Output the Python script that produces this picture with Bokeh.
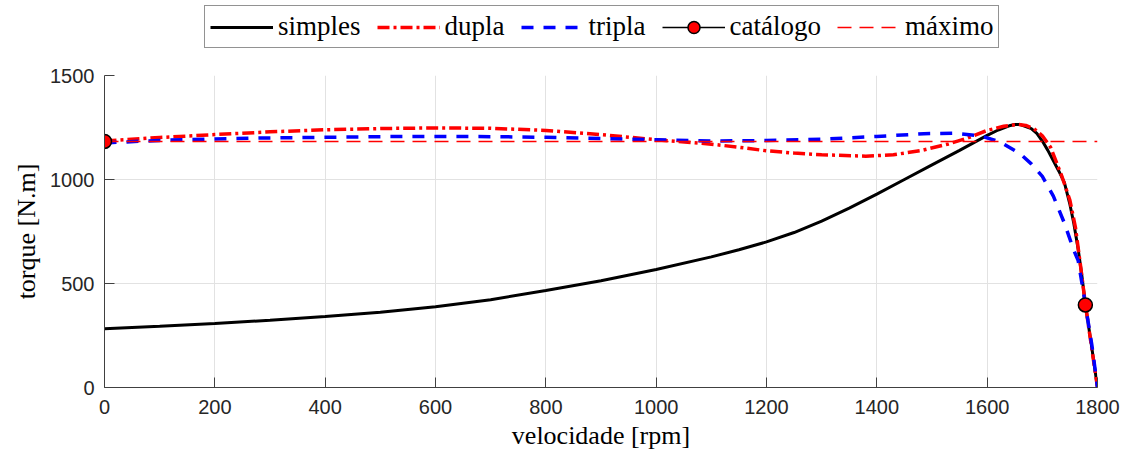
import numpy as np
from bokeh.plotting import figure
from bokeh.layouts import column
from bokeh.models import Legend, LegendItem, FixedTicker, Range1d
from bokeh.embed import file_html
from bokeh.resources import INLINE

# ---- data ----
rpm_simples = [0, 100, 200, 300, 400, 500, 600, 700, 800, 900, 1000, 1100, 1150, 1200, 1250,
               1300, 1350, 1400, 1450, 1500, 1550, 1600, 1620, 1640, 1650, 1660, 1680, 1690,
               1700, 1710, 1720, 1730, 1740, 1750, 1757, 1765, 1772, 1778, 1790, 1800]
torque_simples = [283, 295, 308, 323, 341, 362, 388, 422, 466, 513, 567, 628, 662, 700, 745,
                  800, 862, 930, 1000, 1070, 1140, 1212, 1238, 1258, 1264, 1264, 1245, 1222,
                  1185, 1140, 1090, 1040, 985, 880, 790, 665, 530, 400, 185, 0]

rpm_dupla = [0, 100, 200, 300, 400, 500, 600, 700, 800, 900, 1000, 1100, 1150, 1200, 1250,
             1300, 1380, 1430, 1480, 1530, 1565, 1600, 1630, 1657, 1670, 1685, 1700, 1715,
             1736, 1750, 1760, 1770, 1778, 1790, 1800]
torque_dupla = [1185, 1202, 1216, 1229, 1239, 1245, 1248, 1246, 1236, 1216, 1191, 1170, 1155,
                1138, 1127, 1119, 1112, 1119, 1139, 1171, 1200, 1236, 1256, 1265, 1260, 1244,
                1210, 1155, 1011, 900, 770, 570, 400, 180, 0]

rpm_tripla = [0, 100, 200, 300, 400, 500, 600, 700, 800, 900, 1000, 1100, 1200, 1300, 1400,
              1485, 1540, 1588, 1624, 1660, 1680, 1700, 1720, 1740, 1757, 1765, 1775, 1778,
              1790, 1800]
torque_tripla = [1176, 1188, 1195, 1200, 1203, 1206, 1207, 1206, 1203, 1197, 1191, 1185, 1187,
                 1194, 1207, 1220, 1223, 1210, 1180, 1123, 1075, 1015, 920, 790, 660, 610,
                 450, 400, 200, 0]

catalog_rpm = [0, 1778]
catalog_torque = [1183, 397]

max_rpm = [0, 1800]
max_torque = [1183, 1183]

labels = ["simples", "dupla", "tripla", "catálogo", "máximo"]
x_ticks = [0, 200, 400, 600, 800, 1000, 1200, 1400, 1600, 1800]
y_ticks = [0, 500, 1000, 1500]

# ---- styles ----
S_SIMPLES = dict(line_color="black", line_width=3)
S_DUPLA = dict(line_color="#ff0000", line_width=3.5, line_dash="12 4 3 4")
S_TRIPLA = dict(line_color="#0000ff", line_width=3.5, line_dash="12 10")
S_MAX = dict(line_color="#ff0000", line_width=1.5, line_dash="14 8")
S_CAT_LINE = dict(line_color="black", line_width=1.5)
S_CAT = dict(size=14, fill_color="#ff0000", line_color="black", line_width=1.5)

# ---- main plot ----
p = figure(width=1126, height=412, x_range=Range1d(0, 1800), y_range=Range1d(0, 1500),
           output_backend="svg", toolbar_location=None,
           min_border_left=104, min_border_right=29, min_border_top=27, min_border_bottom=73)
p.outline_line_color = None
p.background_fill_color = "white"
p.border_fill_color = "white"

p.line(rpm_simples, torque_simples, **S_SIMPLES)
p.line(rpm_dupla, torque_dupla, **S_DUPLA)
p.line(rpm_tripla, torque_tripla, **S_TRIPLA)
p.line(max_rpm, max_torque, **S_MAX)
p.scatter(catalog_rpm, catalog_torque, **S_CAT)

for ax in (p.xaxis, p.yaxis):
    ax.major_tick_in = 10
    ax.major_tick_out = 0
    ax.minor_tick_in = 0
    ax.minor_tick_out = 0
    ax.axis_line_color = "#404040"
    ax.major_tick_line_color = "#404040"
    ax.major_label_text_font = "Liberation Sans"
    ax.major_label_text_font_size = "20px"
    ax.major_label_text_color = "#262626"
    ax.axis_label_text_font = "Liberation Serif"
    ax.axis_label_text_font_size = "26px"
    ax.axis_label_text_font_style = "normal"
    ax.axis_label_text_color = "black"

p.xaxis.ticker = FixedTicker(ticks=x_ticks)
p.yaxis.ticker = FixedTicker(ticks=y_ticks)
p.xaxis.major_label_standoff = 12
p.yaxis.major_label_standoff = 10
p.xaxis.axis_label = "velocidade [rpm]"
p.yaxis.axis_label = "torque [N.m]"
p.xaxis.axis_label_standoff = 4
p.yaxis.axis_label_standoff = 6

p.xgrid.ticker = FixedTicker(ticks=x_ticks)
p.ygrid.ticker = FixedTicker(ticks=y_ticks)
p.xgrid.grid_line_color = "#e2e2e2"
p.ygrid.grid_line_color = "#e2e2e2"

# ---- legend strip above the plot ----
lf = figure(width=1126, height=48, x_range=Range1d(0, 1), y_range=Range1d(0, 1),
            x_axis_type=None, y_axis_type=None, output_backend="svg", toolbar_location=None,
            min_border_left=0, min_border_right=0, min_border_top=0, min_border_bottom=0)
lf.outline_line_color = None
lf.xgrid.visible = False
lf.ygrid.visible = False
nan2 = [np.nan, np.nan]
l1 = lf.line(nan2, nan2, **S_SIMPLES)
l2 = lf.line(nan2, nan2, **S_DUPLA)
l3 = lf.line(nan2, nan2, **S_TRIPLA)
l4a = lf.line(nan2, nan2, **S_CAT_LINE)
l4b = lf.scatter(nan2, nan2, **S_CAT)
l5 = lf.line(nan2, nan2, **S_MAX)

legend = Legend(items=[
    LegendItem(label=labels[0], renderers=[l1]),
    LegendItem(label=labels[1], renderers=[l2]),
    LegendItem(label=labels[2], renderers=[l3]),
    LegendItem(label=labels[3], renderers=[l4a, l4b]),
    LegendItem(label=labels[4], renderers=[l5]),
], orientation="horizontal", location=(100, 0), glyph_width=63, glyph_height=30,
    label_standoff=5, spacing=16, padding=5, margin=0,
    label_text_font="Liberation Serif", label_text_font_size="27px",
    label_text_color="black", label_text_baseline="middle",
    border_line_color="#262626", border_line_width=1,
    background_fill_color="white", background_fill_alpha=1.0)
lf.add_layout(legend)

layout = column(lf, p, spacing=0)
open("out.html", "w").write(file_html(layout, INLINE))
